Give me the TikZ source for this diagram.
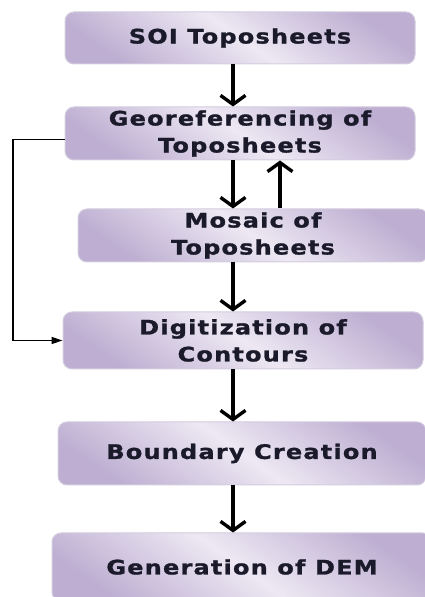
\documentclass[tikz,border=0pt]{standalone}
\usepackage{fontspec}
\usetikzlibrary{arrows.meta,calc,positioning}
\newfontfamily\stepfont{DejaVu Sans Bold}[FakeStretch=1.2,LetterSpace=6,FakeBold=1.2]
\definecolor{boxlight}{HTML}{EDE8F3}
\definecolor{boxdark}{HTML}{BEAFD2}
\definecolor{boxedge}{HTML}{D4CCDF}
\definecolor{steptext}{HTML}{1A1A2A}

\begin{document}
\begin{tikzpicture}[x=1pt,y=1pt,
    stepbox/.style={rectangle, rounded corners=9pt, draw=boxedge, line width=1pt,
      top color=boxdark, bottom color=boxdark, middle color=boxlight, shading angle=-35,
      font=\stepfont\fontsize{20}{27}\selectfont, text=steptext,
      align=center, inner sep=0pt},
    flow/.style={line width=3.6pt, -{Straight Barb[length=9pt,width=25pt,line width=3.4pt]}},
    back/.style={line width=1.6pt, -{Triangle[length=11pt,width=7pt]}}]
    \useasboundingbox (0,0) rectangle (425,597);
    \clip (0,0) rectangle (425,597);
    % Trin i forarbejdningen, oppefra og ned
    \node[stepbox, minimum width=350pt, minimum height=52pt] (soi) at (240,559) {SOI Toposheets};
    \node[stepbox, minimum width=350pt, minimum height=53pt] (georef) at (240,463.5) {Georeferencing of\\Toposheets};
    \node[stepbox, minimum width=350pt, minimum height=53pt] (mosaic) at (253,361.5) {Mosaic of\\Toposheets};
    \node[stepbox, minimum width=360pt, minimum height=57pt] (digit) at (243,256.5) {Digitization of\\Contours};
    \node[stepbox, minimum width=368pt, minimum height=63pt] (bound) at (242,143.5) {Boundary Creation};
    \node[stepbox, minimum width=380pt, minimum height=68pt] (dem) at (242,30) {Generation of DEM};
    % Lodrette linjer til pilene
    \coordinate (down) at (233,0);
    \coordinate (up) at (280,0);
    \coordinate (loop) at (13,0);
    \draw[flow] (soi.south -| down) -- (georef.north -| down);
    \draw[flow] (georef.south -| down) -- (mosaic.north -| down);
    \draw[flow] (mosaic.north -| up) -- (georef.south -| up);
    \draw[flow] (mosaic.south -| down) -- (digit.north -| down);
    \draw[flow] (digit.south -| down) -- (bound.north -| down);
    \draw[flow] (bound.south -| down) -- (dem.north -| down);
    % Tilbageloeb fra georeferering til digitalisering
    \draw[back] ([yshift=-6pt]georef.west) -| (loop |- digit.west) -- (digit.west);
\end{tikzpicture}
\end{document}
